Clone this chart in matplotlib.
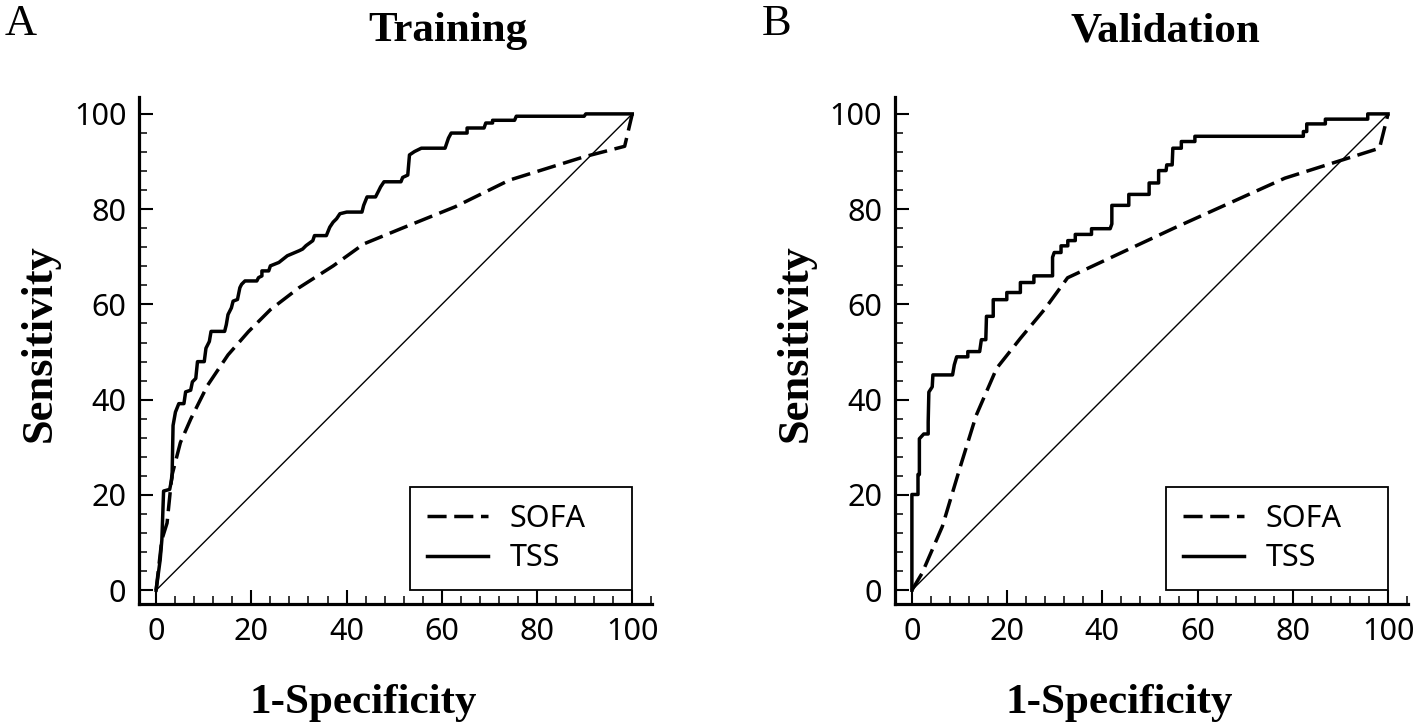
import matplotlib
matplotlib.use("Agg")
import matplotlib.pyplot as plt
from matplotlib.ticker import MultipleLocator

# ---- data (1-specificity %, sensitivity %) ----
train_tss_fpr = [0, 0.85, 1.21, 1.57, 2.85, 3.35, 3.56, 4.06, 4.77, 5.84, 6.2, 7.26,
                 7.62, 8.33, 8.69, 10.11, 10.47, 11.18, 11.54, 14.39, 14.74, 15.1,
                 15.81, 16.17, 17.09, 17.59, 17.95, 18.66, 21.15, 21.51, 22.22, 22.22,
                 23.65, 24.0, 25.78, 27.56, 30.06, 30.77, 31.48, 32.91, 33.26, 35.75,
                 36.47, 37.18, 37.89, 38.6, 40.03, 43.23, 43.59, 44.3, 46.08, 46.8,
                 47.15, 47.86, 51.42, 51.78, 52.85, 53.21, 54.27, 55.7, 60.68, 61.4,
                 61.97, 65.31, 65.31, 68.87, 69.23, 70.66, 70.66, 75.28, 75.64, 89.89,
                 90.24, 100]
train_tss_tpr = [0, 6.35, 10.59, 20.82, 21.17, 23.64, 34.58, 37.4, 39.17, 39.17, 41.64,
                 41.99, 43.75, 44.46, 47.99, 47.99, 50.81, 52.22, 54.34, 54.34, 55.75,
                 57.87, 59.28, 60.69, 61.04, 63.51, 64.22, 64.93, 64.93, 65.63, 65.98,
                 67.04, 67.04, 68.1, 68.81, 70.22, 71.28, 71.63, 72.34, 73.39, 74.45,
                 74.45, 76.22, 77.28, 77.98, 79.04, 79.39, 79.39, 80.8, 82.57, 82.57,
                 83.98, 84.69, 85.75, 85.75, 86.66, 87.16, 91.39, 92.1, 92.8, 92.8,
                 94.92, 95.98, 95.98, 97.04, 97.04, 98.09, 98.09, 98.66, 98.66, 99.51,
                 99.51, 100, 100]

train_sofa_fpr = [0, 1.2, 2.3, 3.3, 5.1, 7.3, 10.8, 15.1, 19.4, 24.0, 30.0, 37.2,
                  43.6, 51.4, 62.8, 74.2, 89.9, 98.4, 100]
train_sofa_tpr = [0, 10.6, 14.1, 24.0, 31.0, 36.0, 43.0, 49.4, 54.3, 58.9, 63.5, 68.1,
                  72.7, 75.9, 80.5, 86.1, 91.0, 93.2, 100]

valid_tss_fpr = [0, 0, 1.28, 1.28, 1.57, 1.57, 2.49, 3.42, 3.42, 3.56, 4.27, 4.41,
                 8.54, 8.9, 9.4, 11.74, 11.74, 14.23, 14.59, 15.52, 15.66, 17.08,
                 17.08, 19.93, 19.93, 22.78, 22.78, 25.62, 25.62, 29.54, 29.54, 29.89,
                 31.32, 31.32, 32.74, 32.74, 34.31, 34.31, 37.72, 37.72, 41.64, 41.99,
                 41.99, 45.55, 45.55, 49.82, 49.82, 51.81, 51.81, 53.38, 53.52, 54.66,
                 54.8, 56.58, 56.58, 59.43, 59.43, 82.21, 82.21, 82.92, 82.92, 86.83,
                 86.83, 95.73, 95.73, 100]
valid_tss_tpr = [0, 20.1, 20.1, 24.3, 24.3, 31.8, 32.8, 32.8, 35.3, 41.6, 42.7, 45.2,
                 45.2, 47.3, 49.0, 49.0, 50.1, 50.1, 52.6, 52.6, 57.5, 57.5, 61.0,
                 61.0, 62.5, 62.5, 64.6, 64.6, 66.0, 66.0, 69.9, 70.9, 70.9, 72.3,
                 72.3, 73.4, 73.4, 74.7, 74.7, 75.9, 75.9, 76.9, 80.8, 80.8, 83.1,
                 83.1, 85.5, 85.5, 88.1, 88.1, 89.3, 89.3, 92.8, 92.8, 94.2, 94.2,
                 95.3, 95.3, 96.3, 96.3, 97.9, 97.9, 98.9, 98.9, 100, 100]

valid_sofa_fpr = [0, 2.1, 6.4, 10.0, 13.5, 17.8, 22.8, 27.8, 32.7, 55.0, 78.3, 98.2, 100]
valid_sofa_tpr = [0, 3.5, 13.4, 25.4, 36.7, 46.6, 52.9, 58.9, 65.6, 76.0, 86.5, 92.8, 100]

panels = [
    ("A", "Training", train_sofa_fpr, train_sofa_tpr, train_tss_fpr, train_tss_tpr),
    ("B", "Validation", valid_sofa_fpr, valid_sofa_tpr, valid_tss_fpr, valid_tss_tpr),
]
ticks = [0, 20, 40, 60, 80, 100]

serif = "Liberation Serif"
sans = "Noto Sans"

fig = plt.figure(figsize=(14.18, 7.24), dpi=100)
axes_left = [0.098, 0.631]
letter_x = [0.0035, 0.537]
title_x = [0.316, 0.8216]

for i, (letter, title, s_fpr, s_tpr, t_fpr, t_tpr) in enumerate(panels):
    ax = fig.add_axes([axes_left[i], 0.1657, 0.362, 0.700])

    ax.plot([0, 100], [0, 100], color="black", lw=1.0)
    ax.plot(s_fpr, s_tpr, color="black", lw=2.5, dashes=(5.5, 2.2), label="SOFA")
    ax.plot(t_fpr, t_tpr, color="black", lw=2.5, label="TSS")

    ax.set_xlim(-3.6, 104.2)
    ax.set_ylim(-2.9, 103.5)
    ax.set_xticks(ticks)
    ax.set_yticks(ticks)
    ax.xaxis.set_minor_locator(MultipleLocator(4))
    ax.yaxis.set_minor_locator(MultipleLocator(4))
    ax.tick_params(which="major", direction="in", length=10, width=1.5,
                   labelsize=22, pad=9)
    ax.tick_params(which="minor", direction="in", length=5.5, width=1.1)
    for lab in ax.get_xticklabels() + ax.get_yticklabels():
        lab.set_fontfamily(sans)

    for side in ["top", "right"]:
        ax.spines[side].set_visible(False)
    for side in ["left", "bottom"]:
        ax.spines[side].set_linewidth(2.3)

    ax.set_xlabel("1-Specificity", fontfamily=serif, fontweight="bold", fontsize=31)
    ax.set_ylabel("Sensitivity", fontfamily=serif, fontweight="bold", fontsize=32)
    ax.xaxis.label.set_va("baseline")
    ax.xaxis.set_label_coords(0.437, -0.215)
    ax.yaxis.label.set_va("center")
    ax.yaxis.set_label_coords(-0.193, 0.515)

    leg = ax.legend(loc="lower left", bbox_to_anchor=(53.4, 0, 46.6, 21.2),
                    bbox_transform=ax.transData, mode="expand", borderaxespad=0,
                    fancybox=False, edgecolor="black", framealpha=1,
                    prop={"family": sans, "size": 22}, handlelength=2.0,
                    handletextpad=0.7, borderpad=0.55, labelspacing=0.32)
    leg.get_frame().set_linewidth(1.3)

    fig.text(letter_x[i], 0.995, letter, fontfamily=serif, fontsize=32,
             ha="left", va="top")
    fig.text(title_x[i], 0.943, title, fontfamily=serif, fontweight="bold",
             fontsize=31, ha="center", va="baseline")

fig.savefig("out.png", dpi=100)
